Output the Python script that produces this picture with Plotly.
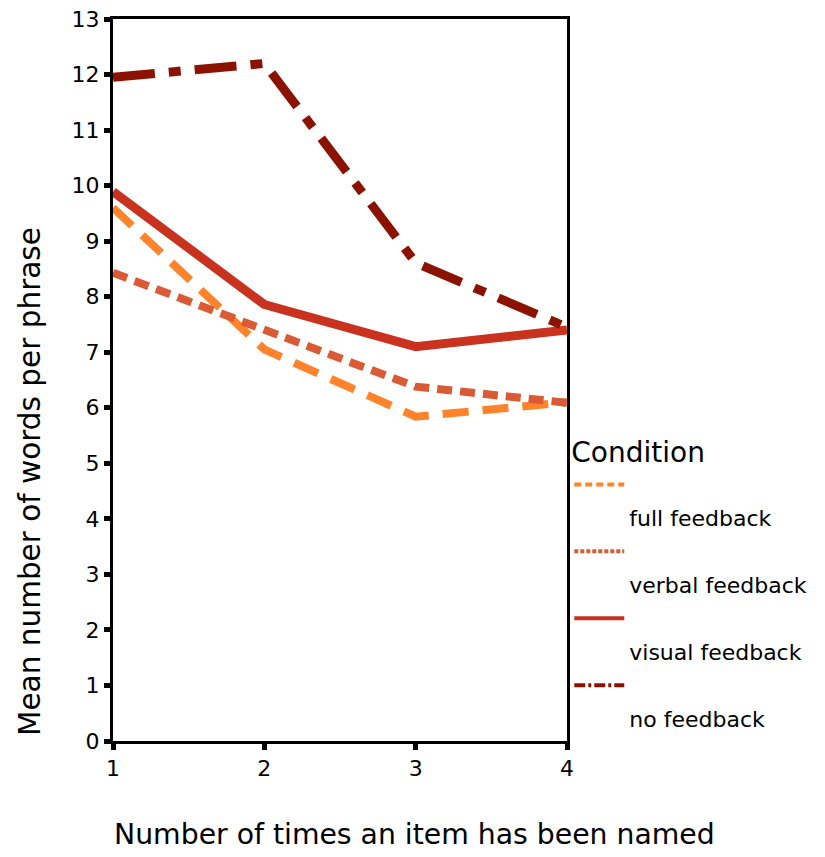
import plotly.graph_objects as go

times_named = [1, 2, 3, 4]
full_feedback = [9.6, 7.05, 5.84, 6.1]
verbal_feedback = [8.43, 7.39, 6.38, 6.09]
visual_feedback = [9.89, 7.86, 7.1, 7.4]
no_feedback = [11.95, 12.2, 8.61, 7.45]

series_names = ["full feedback", "verbal feedback", "visual feedback", "no feedback"]
series_values = [full_feedback, verbal_feedback, visual_feedback, no_feedback]
series_colors = ["#FF832A", "#DA5A35", "#C9321F", "#8C1200"]
series_dash = ["26px,14px", "15px,8px", "solid", "42px,14px,12px,14px"]
series_width = [8, 8, 9, 9]
legend_dash = ["7px,4px", "4px,2px", "solid", "11px,3px,3px,3px"]

y_ticks = list(range(0, 14))
x_ticks = [1, 2, 3, 4]

FONT = "DejaVu Sans"

fig = go.Figure()
for name, vals, col, dash, w in zip(series_names, series_values, series_colors, series_dash, series_width):
    fig.add_trace(go.Scatter(
        x=times_named, y=vals, mode="lines", name=name,
        line=dict(color=col, dash=dash, width=w),
        showlegend=False,
    ))
# legend-only entries (thin lines, like the reference key)
for name, col, dash in zip(series_names, series_colors, legend_dash):
    fig.add_trace(go.Scatter(
        x=[None], y=[None], mode="lines",
        name="&nbsp;<br><span style='font-size:22px'>" + name + "</span>",
        line=dict(color=col, dash=dash, width=4),
        legendgroup=name, showlegend=True, hoverinfo="skip",
    ))

fig.update_layout(
    width=825, height=857,
    margin=dict(l=113, r=258, t=19, b=116, autoexpand=False),
    paper_bgcolor="white", plot_bgcolor="white",
    font=dict(family=FONT, color="black"),
    showlegend=True,
    legend=dict(
        x=1.005, xanchor="left", y=0.437, yanchor="top",
        font=dict(size=24.6, family=FONT, color="black"),
        title=dict(text="Condition", font=dict(size=28, family=FONT, color="black")),
        valign="top", tracegroupgap=0, itemwidth=50,
        bgcolor="rgba(0,0,0,0)",
    ),
    xaxis=dict(
        range=[1, 4], tickvals=x_ticks, ticktext=[str(v) for v in x_ticks],
        showgrid=False, zeroline=False, showline=True, linecolor="black", linewidth=3, mirror=True,
        ticks="outside", ticklen=6, tickwidth=5, tickcolor="black",
        tickfont=dict(size=22, family=FONT), automargin=False,
    ),
    yaxis=dict(
        range=[0, 13], tickvals=y_ticks, ticktext=[str(v) for v in y_ticks],
        showgrid=False, zeroline=False, showline=True, linecolor="black", linewidth=3, mirror=True,
        ticks="outside", ticklen=6, tickwidth=5, tickcolor="black",
        tickfont=dict(size=22, family=FONT), automargin=False,
    ),
    annotations=[
        dict(text="Number of times an item has been named", xref="paper", yref="paper",
             x=0.665, y=-0.13, xanchor="center", yanchor="middle", showarrow=False,
             font=dict(size=28.3, family=FONT, color="black")),
        dict(text="Mean number of words per phrase", xref="paper", yref="paper",
             x=-0.183, y=0.36, xanchor="center", yanchor="middle", showarrow=False, textangle=-90,
             font=dict(size=29.5, family=FONT, color="black")),
    ],
)

fig.write_html("out.html", config={"displayModeBar": False},
               post_script="document.body.style.margin='0';document.body.style.padding='0';")
